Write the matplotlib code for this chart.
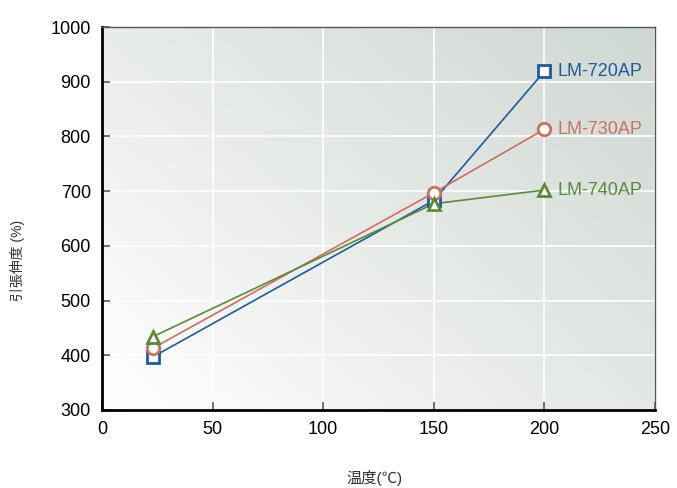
import numpy as np
import matplotlib.pyplot as plt
from matplotlib.colors import LinearSegmentedColormap

plt.rcParams['font.family'] = ['Liberation Sans Narrow', 'Liberation Sans', 'Noto Sans CJK JP', 'DejaVu Sans']

# data
temps = [23, 150, 200]
lm720 = [397, 683, 919]
lm730 = [413, 697, 813]
lm740 = [434, 677, 702]
names = ['LM-720AP', 'LM-730AP', 'LM-740AP']
x_ticks = [0, 50, 100, 150, 200, 250]
y_ticks = [300, 400, 500, 600, 700, 800, 900, 1000]

fig = plt.figure(figsize=(6.77, 4.88), dpi=100)
ax = fig.add_axes([102/677, 1-410/488, 553/677, 383/488])

# diagonal gradient background
cmap = LinearSegmentedColormap.from_list('bg', ['#ffffff', '#e6eae7', '#cfd8d2'])
gx, gy = np.meshgrid(np.linspace(0, 1, 200), np.linspace(0, 1, 200))
ax.imshow((gx*0.55 + gy*0.45), extent=[0, 1, 0, 1], transform=ax.transAxes,
          cmap=cmap, aspect='auto', origin='lower', zorder=0)

ax.set_xlim(0, 250)
ax.set_ylim(300, 1000)
ax.set_xticks(x_ticks)
ax.set_yticks(y_ticks)
ax.grid(True, color='white', linewidth=1.2, zorder=1)
ax.set_axisbelow(True)

styles = [('#1f5a9a', 's'), ('#cc6f5f', 'o'), ('#5a8a3a', '^')]
for vals, name, (c, m) in zip([lm720, lm730, lm740], names, styles):
    ax.plot(temps, vals, color=c, linewidth=1.2, zorder=3)
    ax.plot(temps, vals, linestyle='none', marker=m, markersize=9 if m != 's' else 8,
            markerfacecolor='white', markeredgecolor=c, markeredgewidth=2, zorder=4)
    ax.text(temps[-1] + 6, vals[-1], name, color=c, fontsize=13, va='center', ha='left',
            zorder=5)

ax.tick_params(direction='in', length=6, width=1.2, color='#555555', labelsize=13, pad=8)
for s in ['left', 'bottom']:
    ax.spines[s].set_linewidth(2)
    ax.spines[s].set_color('black')
for s in ['top', 'right']:
    ax.spines[s].set_linewidth(1)
    ax.spines[s].set_color('#555555')

fig.text(0.015, 1-260/488, '引張伸度 (%)', rotation=90, fontsize=10, va='center', ha='left',
         color='#333333')
fig.text(375/677, 1-478/488, '温度(℃)', fontsize=11, ha='center', va='center', color='#333333')

fig.savefig('out.png', dpi=100)
